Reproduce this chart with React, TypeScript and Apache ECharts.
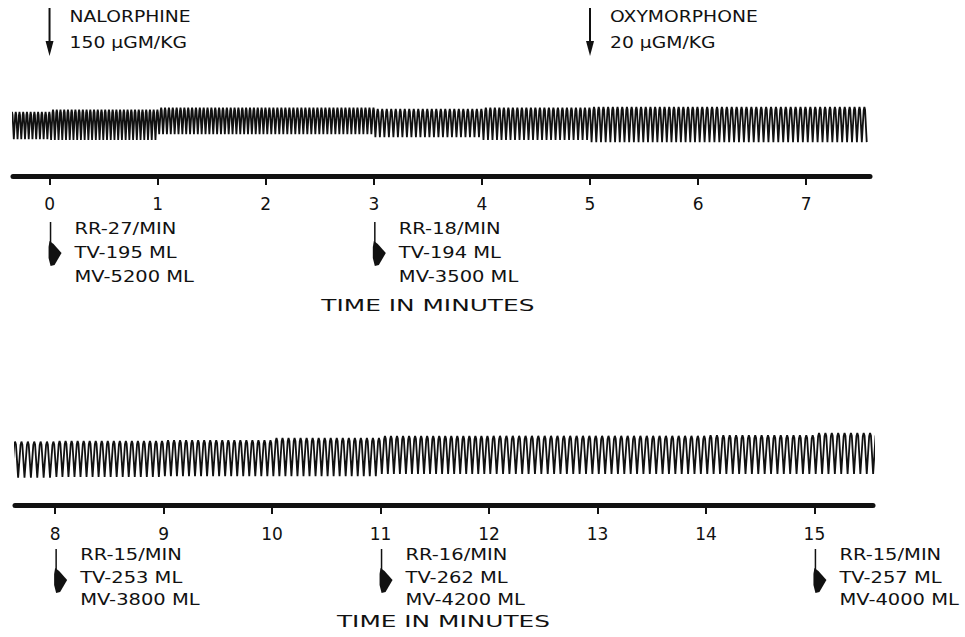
import React, { useEffect, useRef } from "react";
import * as echarts from "echarts";

// ---- tick labels (minutes) ----
const topTickValues = [0, 1, 2, 3, 4, 5, 6, 7];
const bottomTickValues = [8, 9, 10, 11, 12, 13, 14, 15];

// ---- respiration trace read from the recording, per segment ----
const topSegStart = [-0.365, 0, 1, 2, 3, 4, 5, 6, 7];
const topSegEnd = [0, 1, 2, 3, 4, 5, 6, 7, 7.55];
const topRate = [29, 29, 28, 27, 24, 24, 23, 22, 22];
const topHigh = [8.9, 9.2, 9.5, 9.5, 9.3, 9.5, 9.6, 9.6, 9.6];
const topLow = [5.1, 5.0, 5.8, 5.8, 5.4, 5.0, 4.7, 4.7, 4.7];

const bottomSegStart = [7.6, 8, 9, 10, 11, 12, 13, 14, 15];
const bottomSegEnd = [8, 9, 10, 11, 12, 13, 14, 15, 15.65];
const bottomRate = [17, 18, 18, 18, 18, 17, 17, 17, 17];
const bottomHigh = [8.8, 8.9, 9.0, 9.3, 9.6, 9.6, 9.6, 9.7, 10.0];
const bottomLow = [3.8, 3.9, 4.0, 4.0, 4.3, 4.3, 4.3, 4.3, 4.3];

// ---- drug injections ----
const drugNames = ["NALORPHINE", "OXYMORPHONE"];
const drugDoses = ["150 μGM/KG", "20 μGM/KG"];
const drugMinutes = [0, 5];

// ---- readings ----
const readingPanel = [0, 0, 1, 1, 1];
const readingMinutes = [0, 3, 8, 11, 15];
const readingRR = [27, 18, 15, 16, 15];
const readingTV = [195, 194, 253, 262, 257];
const readingMV = [5200, 3500, 3800, 4200, 4000];

const axisTitle = "TIME IN MINUTES";

const INK = "#111";
const FONT = "DejaVu Sans";

function buildTrace(
  starts: number[],
  ends: number[],
  rates: number[],
  highs: number[],
  lows: number[]
) {
  const pts: number[][] = [];
  let t = starts[0];
  for (let i = 0; i < starts.length; i++) {
    const p = 1 / rates[i];
    const h = highs[i];
    const l = lows[i];
    while (t < ends[i] - 1e-9) {
      pts.push([t, l]);
      pts.push([t + 0.38 * p, h - 0.45]);
      pts.push([t + 0.52 * p, h]);
      pts.push([t + 0.66 * p, h - 0.4]);
      t += p;
    }
  }
  pts.push([t, lows[lows.length - 1]]);
  return pts;
}

function xAxisFor(gridIndex: number, min: number, max: number, ticks: number[], margin: number) {
  return {
    type: "value",
    gridIndex,
    min,
    max,
    axisLine: { show: true, lineStyle: { color: INK, width: 5 } },
    axisTick: {
      show: true,
      customValues: ticks,
      length: 9,
      lineStyle: { color: INK, width: 2 },
    },
    axisLabel: {
      show: true,
      customValues: ticks,
      margin,
      color: INK,
      fontFamily: FONT,
      fontSize: 17,
      formatter: (v: number) => String(Math.round(v)),
    },
    splitLine: { show: false },
  };
}

function yAxisFor(gridIndex: number) {
  return {
    type: "value",
    gridIndex,
    min: 0,
    max: 10,
    show: false,
  };
}

function textEl(x: number, y: number, text: string, size: number, sx: number, align = "left") {
  return {
    type: "text",
    x,
    y,
    scaleX: sx,
    silent: true,
    style: {
      text,
      fill: INK,
      font: `${size}px "${FONT}"`,
      align,
      verticalAlign: "middle",
    },
  };
}

export default function App() {
  const ref = useRef<HTMLDivElement>(null);

  useEffect(() => {
    document.body.style.margin = "0";
    document.body.style.background = "#fff";
    if (!ref.current) return;
    const chart = echarts.init(ref.current, undefined, { renderer: "svg" });

    const topTrace = buildTrace(topSegStart, topSegEnd, topRate, topHigh, topLow);
    const bottomTrace = buildTrace(bottomSegStart, bottomSegEnd, bottomRate, bottomHigh, bottomLow);

    chart.setOption({
      animation: false,
      backgroundColor: "#fff",
      grid: [
        { left: 13, right: 95, top: 104, height: 72 },
        { left: 15, right: 92, top: 433, height: 72 },
      ],
      xAxis: [
        xAxisFor(0, -0.338, 7.59, topTickValues, 19),
        xAxisFor(1, 7.63, 15.54, bottomTickValues, 20),
      ],
      yAxis: [yAxisFor(0), yAxisFor(1)],
      series: [
        {
          type: "line",
          xAxisIndex: 0,
          yAxisIndex: 0,
          data: topTrace,
          showSymbol: false,
          clip: false,
          lineStyle: { color: INK, width: 1.8 },
        },
        {
          type: "line",
          xAxisIndex: 1,
          yAxisIndex: 1,
          data: bottomTrace,
          showSymbol: false,
          clip: false,
          lineStyle: { color: INK, width: 1.8 },
        },
      ],
    });

    const els: any[] = [];
    // drug arrows
    for (let i = 0; i < drugNames.length; i++) {
      const [xp] = chart.convertToPixel({ gridIndex: 0 }, [drugMinutes[i], 0]) as number[];
      els.push({
        type: "line",
        silent: true,
        shape: { x1: xp, y1: 8, x2: xp, y2: 46 },
        style: { stroke: INK, lineWidth: 2 },
      });
      els.push({
        type: "polygon",
        silent: true,
        shape: { points: [[xp - 4, 41], [xp + 4, 41], [xp, 56]] },
        style: { fill: INK },
      });
      els.push(textEl(xp + 20, 17, drugNames[i], 15, 1.25));
      els.push(textEl(xp + 20, 43, drugDoses[i], 15, 1.25));
    }

    // readings with hook arrows
    for (let i = 0; i < readingMinutes.length; i++) {
      const g = readingPanel[i];
      const [xp, ay] = chart.convertToPixel({ gridIndex: g }, [readingMinutes[i], 0]) as number[];
      const dy = g === 0 ? [53, 77, 101] : [50, 73, 95];
      const hy = g === 0 ? 46 : 44;
      els.push({
        type: "line",
        silent: true,
        shape: { x1: xp + 1, y1: ay + hy, x2: xp + 1, y2: ay + hy + 22 },
        style: { stroke: INK, lineWidth: 1.5 },
      });
      els.push({
        type: "polygon",
        silent: true,
        shape: {
          points: [
            [xp, ay + hy + 19],
            [xp + 4, ay + hy + 22],
            [xp + 12, ay + hy + 31],
            [xp + 5, ay + hy + 43],
            [xp + 1, ay + hy + 44],
            [xp - 1, ay + hy + 36],
            [xp - 1, ay + hy + 25],
          ],
        },
        style: { fill: INK },
      });
      els.push(textEl(xp + 25, ay + dy[0], `RR-${readingRR[i]}/MIN`, 15, 1.3));
      els.push(textEl(xp + 25, ay + dy[1], `TV-${readingTV[i]} ML`, 15, 1.3));
      els.push(textEl(xp + 25, ay + dy[2], `MV-${readingMV[i]} ML`, 15, 1.3));
    }

    // axis titles
    {
      const [xp, ay] = chart.convertToPixel({ gridIndex: 0 }, [3.5, 0]) as number[];
      els.push(textEl(xp, ay + 130, axisTitle, 16, 1.55, "center"));
    }
    {
      const [xp, ay] = chart.convertToPixel({ gridIndex: 1 }, [11.58, 0]) as number[];
      els.push(textEl(xp, ay + 117, axisTitle, 16, 1.55, "center"));
    }

    chart.setOption({ graphic: els });

    return () => chart.dispose();
  }, []);

  return <div ref={ref} style={{ width: 965, height: 637 }} />;
}
